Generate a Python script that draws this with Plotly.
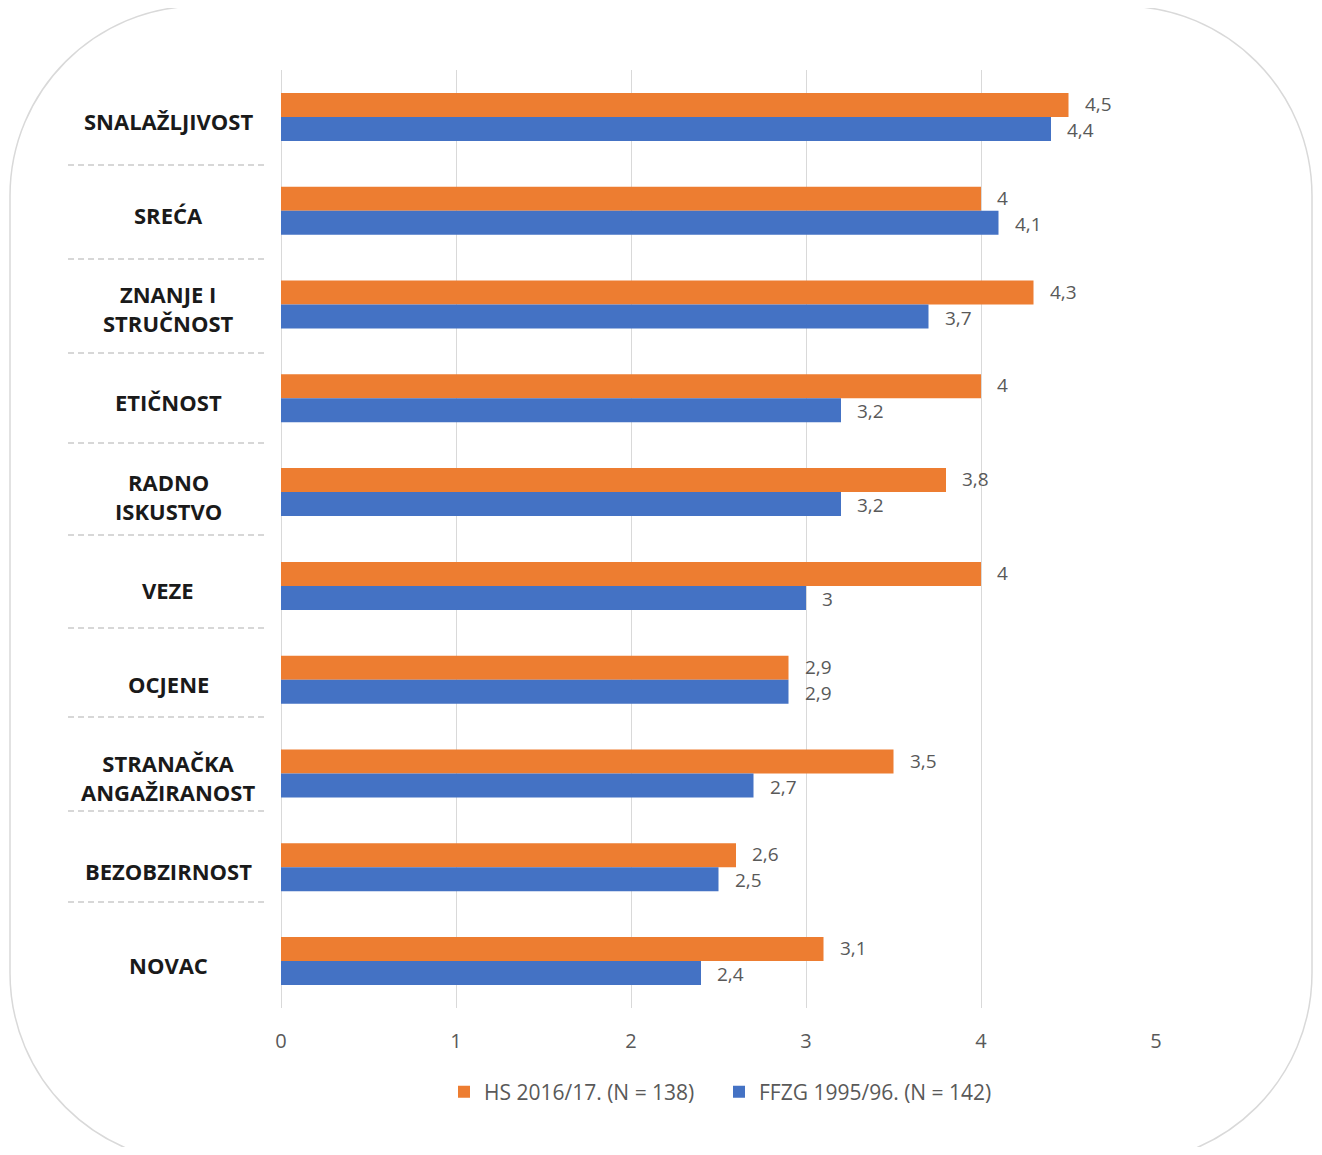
import plotly.graph_objects as go

categories = ["SNALAŽLJIVOST", "SREĆA", "ZNANJE I<br>STRUČNOST", "ETIČNOST",
              "RADNO<br>ISKUSTVO", "VEZE", "OCJENE", "STRANAČKA<br>ANGAŽIRANOST",
              "BEZOBZIRNOST", "NOVAC"]
hs_2016 = [4.5, 4.0, 4.3, 4.0, 3.8, 4.0, 2.9, 3.5, 2.6, 3.1]
ffzg_1995 = [4.4, 4.1, 3.7, 3.2, 3.2, 3.0, 2.9, 2.7, 2.5, 2.4]
series_names = ["HS 2016/17. (N = 138)", "FFZG 1995/96. (N = 142)"]
x_ticks = [0, 1, 2, 3, 4, 5]

ORANGE = "#ED7D31"
BLUE = "#4472C4"
GREY_TXT = "#595959"
FONT = "Open Sans"

OFF = 8  # page body margin
W, H = 1322 - OFF, 1155 - 2 * OFF
L, R, T = 281 - OFF, 166, 70 - OFF
B = H - (1008 - OFF)
PW, PH = W - L - R, H - T - B


def px(x):
    return (x - OFF - L) / PW


def py(y):
    return (H - B - (y - OFF)) / PH


fig = go.Figure()
for name, vals, col in [(series_names[0], hs_2016, ORANGE), (series_names[1], ffzg_1995, BLUE)]:
    fig.add_trace(go.Bar(
        y=categories, x=vals, orientation="h", name=name,
        marker=dict(color=col, line=dict(width=0)),
        hoverinfo="x+y",
    ))

annotations = []
for cat in categories:
    annotations.append(dict(
        x=px(168), xref="paper", y=cat, yref="y", text=cat, showarrow=False,
        xanchor="center", yanchor="middle", align="center", yshift=-4,
        font=dict(family=FONT, size=22, color="#1a1a1a", weight="bold"),
    ))

for vals, ys in [(hs_2016, -13), (ffzg_1995, 13)]:
    for cat, v in zip(categories, vals):
        annotations.append(dict(
            x=v, xref="x", y=cat, yref="y", text=f"{v:g}".replace(".", ","),
            showarrow=False, xanchor="left", yanchor="middle", xshift=14, yshift=-ys,
            font=dict(family=FONT, size=19, color=GREY_TXT),
        ))

shapes = []
sep_y = [165, 259, 353, 443, 535, 628, 717, 811, 902]
for yy in sep_y:
    shapes.append(dict(type="line", xref="paper", yref="paper",
                       x0=px(68), x1=px(268), y0=py(yy), y1=py(yy),
                       line=dict(color="#AFAFAF", width=1, dash="6px,4px")))

# rounded outer border
x0, x1, y0, y1, r = 10, 1312, 6, 1163, 190
k = 0.5523 * r
pts = [
    ("M", [(x0 + r, y0)]),
    ("L", [(x1 - r, y0)]),
    ("C", [(x1 - r + k, y0), (x1, y0 + r - k), (x1, y0 + r)]),
    ("L", [(x1, y1 - r)]),
    ("C", [(x1, y1 - r + k), (x1 - r + k, y1), (x1 - r, y1)]),
    ("L", [(x0 + r, y1)]),
    ("C", [(x0 + r - k, y1), (x0, y1 - r + k), (x0, y1 - r)]),
    ("L", [(x0, y0 + r)]),
    ("C", [(x0, y0 + r - k), (x0 + r - k, y0), (x0 + r, y0)]),
]
path = ""
for cmd, ps in pts:
    path += cmd + " " + " ".join(f"{px(a):.5f},{py(b):.5f}" for a, b in ps) + " "
path += "Z"
shapes.append(dict(type="path", xref="paper", yref="paper", path=path,
                   line=dict(color="#D9D9D9", width=1.5), layer="below"))

fig.update_layout(
    width=W, height=H,
    margin=dict(l=L, r=R, t=T, b=B),
    paper_bgcolor="white", plot_bgcolor="white",
    barmode="group", bargap=0.488, bargroupgap=0,
    font=dict(family=FONT, color=GREY_TXT),
    xaxis=dict(range=[0, 5], tickvals=x_ticks, showgrid=True, gridcolor="#D9D9D9",
               gridwidth=1.3, zeroline=True, zerolinecolor="#D9D9D9", zerolinewidth=1.3,
               showline=False, ticks="", ticklabelstandoff=19,
               tickfont=dict(family=FONT, size=20, color=GREY_TXT), fixedrange=True),
    yaxis=dict(type="category", autorange="reversed", showticklabels=False,
               showgrid=False, zeroline=False, showline=False, ticks="", fixedrange=True),
    legend=dict(orientation="h", x=px(719), xanchor="center", y=py(1092), yanchor="middle",
                font=dict(family=FONT, size=21, color=GREY_TXT), itemwidth=30,
                entrywidth=230, entrywidthmode="pixels",
                traceorder="normal"),
    annotations=annotations,
    shapes=shapes,
    showlegend=True,
)

fig.write_html("out.html")
